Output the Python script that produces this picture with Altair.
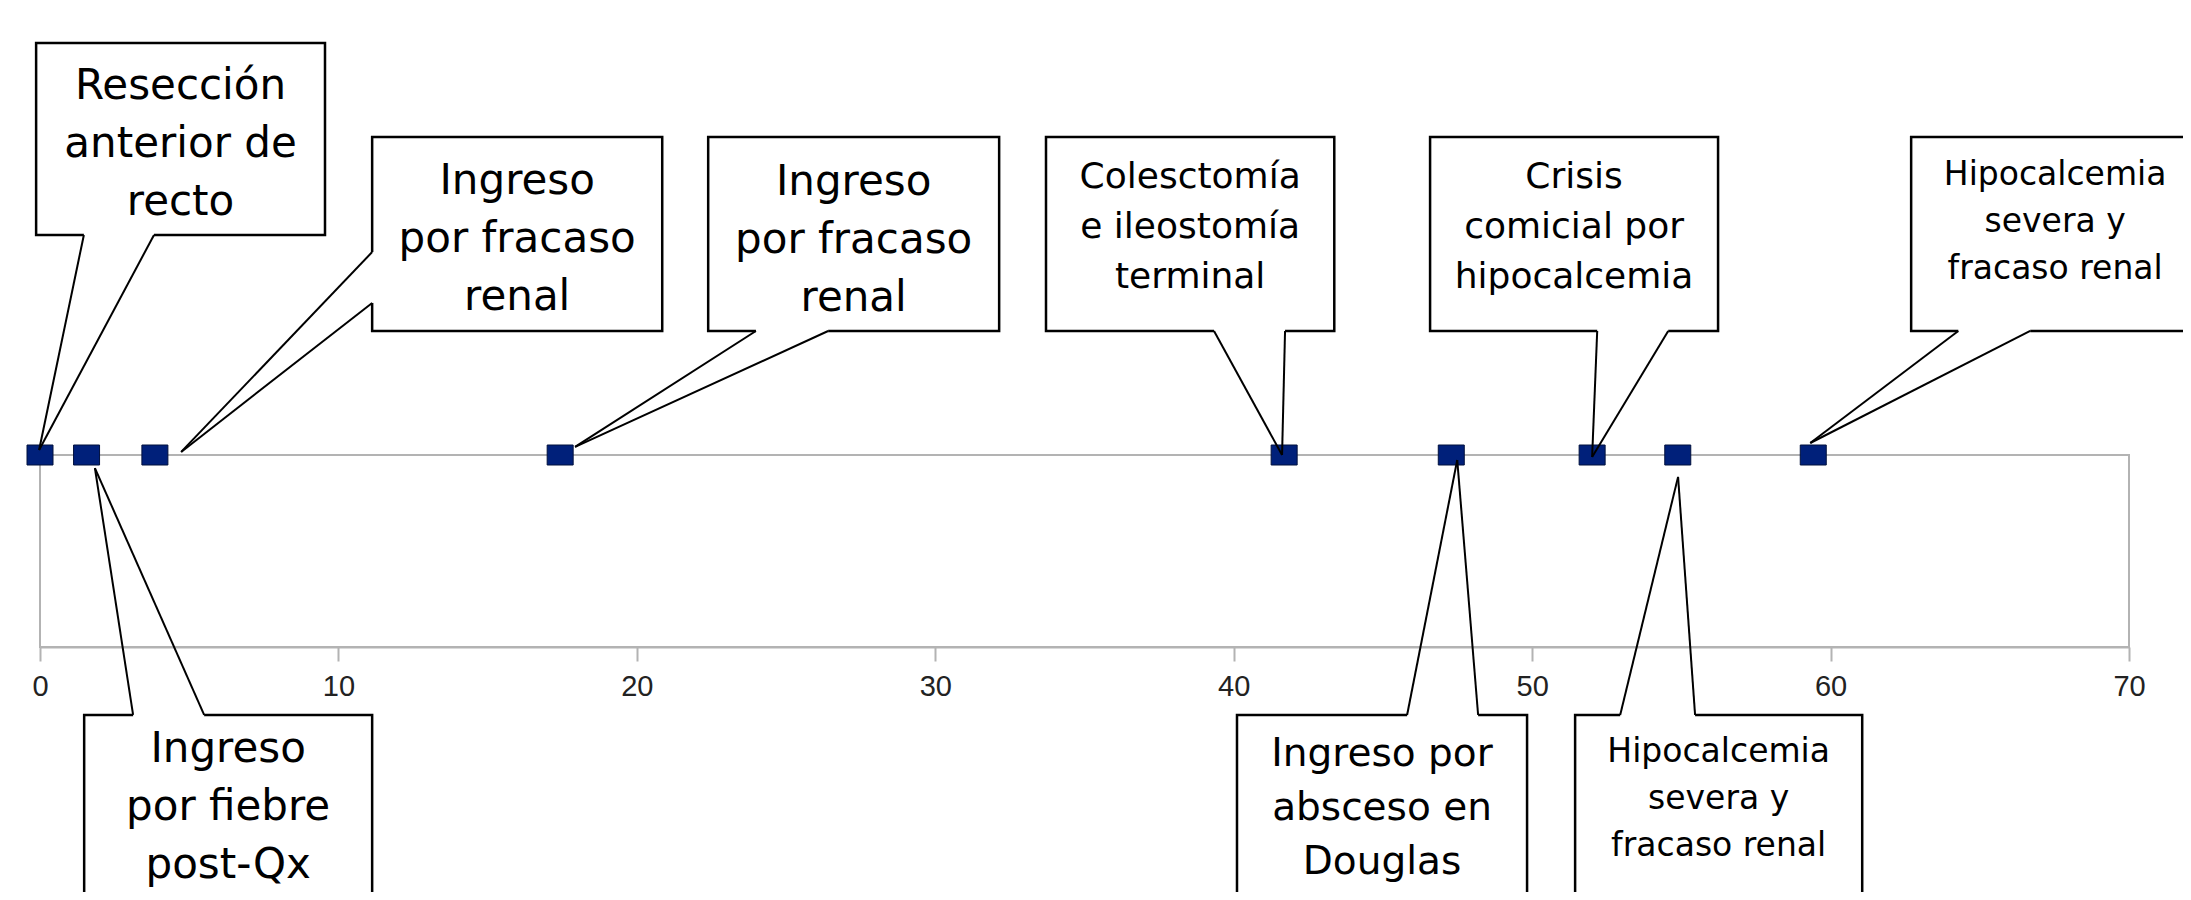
import altair as alt
import pandas as pd

# ---- data (months since surgery) ----
event_month = [0.0, 1.56, 3.85, 17.43, 41.69, 47.29, 52.01, 54.88, 59.42]
event_level = [1.0] * 9

tick_values = [0, 10, 20, 30, 40, 50, 60, 70]

labels = [
    "Resección\nanterior de\nrecto",
    "Ingreso\npor fracaso\nrenal",
    "Ingreso\npor fracaso\nrenal",
    "Colesctomía\ne ileostomía\nterminal",
    "Crisis\ncomicial por\nhipocalcemia",
    "Hipocalcemia\nsevera y\nfracaso renal",
    "Ingreso\npor fiebre\npost-Qx",
    "Ingreso por\nabsceso en\nDouglas",
    "Hipocalcemia\nsevera y\nfracaso renal",
]
label_group = ["A", "A", "A", "B", "B", "C", "A", "D", "C"]

# callout boxes, in data coordinates (x: months, y: chart level)
box_x0 = [-0.13, 11.13, 22.39, 33.71, 46.58, 62.70, 1.48, 40.11, 51.44]
box_x1 = [9.55, 20.85, 32.14, 43.37, 56.23, 72.35, 11.13, 49.83, 61.06]
box_y0 = [3.146, 2.656, 2.656, 2.656, 2.656, 2.656, -0.354, -0.354, -0.354]
box_y1 = [2.146, 1.646, 1.646, 1.646, 1.646, 1.646, -1.365, -1.365, -1.365]
text_y = [2.620, 2.125, 2.120, 2.190, 2.185, 2.212, -0.835, -0.840, -0.790]

# callout pointers
base1_x = [1.47, 11.13, 23.99, 39.34, 52.18, 64.28, 3.12, 45.81, 52.95]
base1_y = [2.146, 2.057, 1.646, 1.646, 1.646, 1.646, -0.354, -0.354, -0.354]
base2_x = [3.82, 11.13, 26.41, 41.72, 54.56, 66.69, 5.50, 48.19, 55.46]
base2_y = [2.146, 1.792, 1.646, 1.646, 1.646, 1.646, -0.354, -0.354, -0.354]
tip_x = [-0.03, 4.73, 17.93, 41.62, 52.01, 59.32, 1.84, 47.49, 54.89]
tip_y = [1.026, 1.016, 1.042, 1.0, 0.99, 1.0625, 0.932, 0.974, 0.886]

# ---- tables ----
events = pd.DataFrame({"month": event_month, "level": event_level})
boxes_df = pd.DataFrame({
    "x0": box_x0, "x1": box_x1, "y0": box_y0, "y1": box_y1,
    "tx": [(a + b) / 2 for a, b in zip(box_x0, box_x1)], "ty": text_y,
    "label": labels, "group": label_group,
})
seg_rows = []
for i in range(len(tip_x)):
    seg_rows.append({"x": base1_x[i], "y": base1_y[i], "x2": tip_x[i], "y2": tip_y[i]})
    seg_rows.append({"x": base2_x[i], "y": base2_y[i], "x2": tip_x[i], "y2": tip_y[i]})
segs = pd.DataFrame(seg_rows)
covers = pd.DataFrame({"x": base1_x, "y": base1_y, "x2": base2_x, "y2": base2_y})

xs = alt.Scale(domain=[0, 70], nice=False, zero=False)
ys = alt.Scale(domain=[0, 1], nice=False, zero=False)
xaxis = alt.Axis(
    values=tick_values, title=None, grid=False,
    domainColor="#b3b3b3", domainWidth=2,
    tickColor="#b3b3b3", tickWidth=2, tickSize=14,
    labelFont="Liberation Sans", labelFontSize=29, labelColor="#222222",
    labelPadding=11, labelFlush=False, labelOverlap=False,
)

pts = alt.Chart(events).mark_point(
    shape="M-1.3,-1H1.3V1H-1.3Z", size=400, filled=True,
    fill="#00207a", stroke="#00103d", strokeWidth=1, opacity=1,
).encode(
    x=alt.X("month:Q", scale=xs, axis=xaxis),
    y=alt.Y("level:Q", scale=ys, axis=None),
)

boxes = alt.Chart(boxes_df).mark_rect(
    fill="white", stroke="black", strokeWidth=2.5,
).encode(
    x=alt.X("x0:Q", scale=xs, axis=xaxis), x2="x1:Q",
    y=alt.Y("y0:Q", scale=ys, axis=None), y2="y1:Q",
)

cover = alt.Chart(covers).mark_rule(color="white", strokeWidth=5).encode(
    x=alt.X("x:Q", scale=xs, axis=xaxis), x2="x2:Q",
    y=alt.Y("y:Q", scale=ys, axis=None), y2="y2:Q",
)

wedges = alt.Chart(segs).mark_rule(color="black", strokeWidth=2).encode(
    x=alt.X("x:Q", scale=xs, axis=xaxis), x2="x2:Q",
    y=alt.Y("y:Q", scale=ys, axis=None), y2="y2:Q",
)

styles = {"A": (42, 58), "D": (39, 54), "B": (36, 50), "C": (33, 47)}
texts = []
for g, (fs, lh) in styles.items():
    texts.append(
        alt.Chart(boxes_df).transform_filter(alt.datum.group == g).mark_text(
            font="DejaVu Sans", fontSize=fs, lineHeight=lh, lineBreak="\n",
            align="center", baseline="middle", color="black", dy=-lh,
        ).encode(
            x=alt.X("tx:Q", scale=xs, axis=xaxis),
            y=alt.Y("ty:Q", scale=ys, axis=None),
            text="label:N",
        )
    )

chart = alt.layer(pts, boxes, cover, wedges, *texts).properties(
    width=2089, height=192,
    autosize=alt.AutoSizeParams(type="none"),
    padding={"left": 32, "top": 447, "right": 54, "bottom": 245},
    background="white",
).configure_view(stroke="#b3b3b3", strokeWidth=2)

chart.save("out.html", embed_options={"renderer": "svg", "actions": False})
